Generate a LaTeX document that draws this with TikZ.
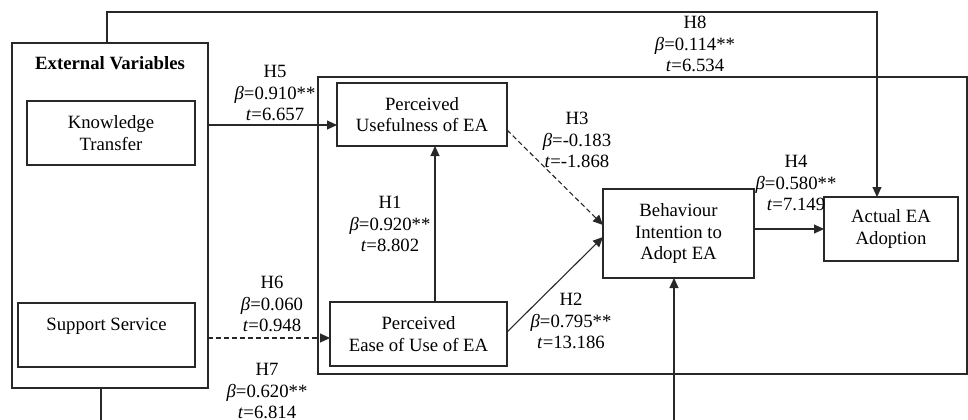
\documentclass[tikz,border=0pt]{standalone}
\usepackage{fontspec}
\setmainfont{Liberation Serif}
\usetikzlibrary{arrows.meta}
\definecolor{edge}{RGB}{40,40,40}
\tikzset{
  every node/.style={font=\fontsize{18.8}{21.5}\selectfont, inner sep=0pt, outer sep=0pt},
  box/.style={draw=edge, line width=1.1bp, align=center, rectangle},
  frame/.style={draw=edge, line width=1.1bp, rectangle},
  lbl/.style={align=center},
  link/.style={draw=edge, line width=1.1bp, -{Triangle[length=10bp,width=9bp]}},
  dashlink/.style={link, dash pattern=on 5bp off 3bp},
}
\newcommand{\bv}{\textit{β}}
\newcommand{\tv}{\textit{t}}
\begin{document}
\begin{tikzpicture}[x=1bp, y=-1bp]
\useasboundingbox (0,0) rectangle (968,419);

% frames: external variables and the research model
\node[frame, minimum width=196bp, minimum height=345bp] (ext) at (110,215.5) {};
\node[frame, minimum width=649bp, minimum height=297bp] (model) at (642.5,225.5) {};
\node[font=\fontsize{18.8}{21.5}\selectfont\bfseries] (exttitle) at (110,63) {External Variables};

% constructs
\node[box, minimum width=168bp, minimum height=64bp] (kt) at (111,133) {Knowledge\\Transfer};
\node[box, minimum width=177bp, minimum height=64bp] (ss) at (106.5,335) {Support Service\\[0pt]~};
\node[box, minimum width=170bp, minimum height=63bp] (pu) at (422,114.5) {Perceived\\Usefulness of EA};
\node[box, minimum width=177bp, minimum height=64bp] (peu) at (418.5,334) {Perceived\\Ease of Use of EA};
\node[box, minimum width=151bp, minimum height=89bp] (bi) at (678.5,233.5) {Behaviour\\Intention to\\Adopt EA};
\node[box, minimum width=134bp, minimum height=64bp] (aea) at (891,229) {Actual EA\\Adoption};

% attachment points on the construct boxes
\coordinate (puIn)  at ([yshift=-10.5bp]pu.west);
\coordinate (peuIn) at ([yshift=-4bp]peu.west);
\coordinate (puBot) at ([xshift=13bp]pu.south);
\coordinate (puOut) at ([yshift=-15.5bp]pu.east);
\coordinate (peuOut) at ([yshift=2bp]peu.east);
\coordinate (biInA) at ([yshift=8.5bp]bi.west);
\coordinate (biInB) at ([yshift=-3.5bp]bi.west);

% paths
\draw[link] (ext.east |- puIn) -- (puIn);
\draw[dashlink] (ext.east |- peuIn) -- (peuIn);
\draw[link] (peu.north -| puBot) -- (puBot);
\draw[dashlink] (puOut) -- (biInA);
\draw[link] (peuOut) -- (biInB);
\draw[link] (bi.east |- aea.west) -- (aea.west);
\coordinate (topA) at (107,12);
\coordinate (topB) at (877,12);
\draw[link] (ext.north -| topA) -- (topA) -- (topB) -- (aea.north -| topB);
\coordinate (botA) at (101,440);
\coordinate (botB) at (674,440);
\draw[link] (ext.south -| botA) -- (botA) -- (botB) -- (bi.south -| botB);

% path coefficients
\node[lbl] (h5) at (275,93) {H5\\\bv=0.910**\\\tv=6.657};
\node[lbl] (h6) at (272,304) {H6\\\bv=0.060\\\tv=0.948};
\node[lbl] (h7) at (267,391) {H7\\\bv=0.620**\\\tv=6.814};
\node[lbl] (h1) at (390,224) {H1\\\bv=0.920**\\\tv=8.802};
\node[lbl] (h3) at (577,140) {H3\\\bv=-0.183\\\tv=-1.868};
\node[lbl] (h2) at (571,321) {H2\\\bv=0.795**\\\tv=13.186};
\node[lbl] (h4) at (796,183) {H4\\\bv=0.580**\\\tv=7.149};
\node[lbl] (h8) at (695,44) {H8\\\bv=0.114**\\\tv=6.534};
\end{tikzpicture}
\end{document}
